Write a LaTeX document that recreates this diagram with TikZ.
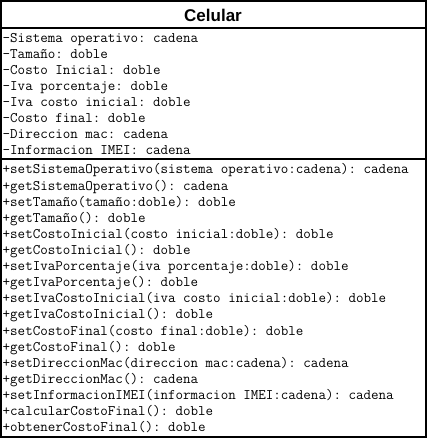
\documentclass[tikz,border=0pt]{standalone}
\usepackage{fontspec}
\setmainfont{Liberation Sans}
\frenchspacing
\begin{document}
\begin{tikzpicture}[x=1pt,y=-1pt,
  frame/.style={draw=black,line width=2pt,inner sep=0pt,minimum width=424.5pt,minimum height=435.5pt},
  divider/.style={draw=black,line width=2pt},
  titletext/.style={font=\bfseries\fontsize{17}{20}\selectfont,inner sep=0pt,anchor=base},
  member/.style={font=\ttfamily\fontsize{14.6}{16}\selectfont\frenchspacing,inner sep=0pt,anchor=base west}]
\useasboundingbox (0,0) rectangle (427,438);
\node[frame] (cls) at (213.25,218.75) {};
\coordinate (d1l) at (1,28.5);
\coordinate (d1r) at (425.5,28.5);
\coordinate (d2l) at (1,159.5);
\coordinate (d2r) at (425.5,159.5);
\draw[divider] (d1l) -- (d1r);
\draw[divider] (d2l) -- (d2r);
\node[titletext] (title) at (213,21.5) {Celular};
\foreach \t [count=\i] in {
  {-Sistema operativo: cadena},
  {-Tamaño: doble},
  {-Costo Inicial: doble},
  {-Iva porcentaje: doble},
  {-Iva costo inicial: doble},
  {-Costo final: doble},
  {-Direccion mac: cadena},
  {-Informacion IMEI: cadena}}
  \node[member] (attr\i) at (2.5,{43+16*(\i-1)}) {\t};
\foreach \t [count=\i] in {
  {+setSistemaOperativo(sistema operativo:cadena): cadena},
  {+getSistemaOperativo(): cadena},
  {+setTamaño(tamaño:doble): doble},
  {+getTamaño(): doble},
  {+setCostoInicial(costo inicial:doble): doble},
  {+getCostoInicial(): doble},
  {+setIvaPorcentaje(iva porcentaje:doble): doble},
  {+getIvaPorcentaje(): doble},
  {+setIvaCostoInicial(iva costo inicial:doble): doble},
  {+getIvaCostoInicial(): doble},
  {+setCostoFinal(costo final:doble): doble},
  {+getCostoFinal(): doble},
  {+setDireccionMac(direccion mac:cadena): cadena},
  {+getDireccionMac(): cadena},
  {+setInformacionIMEI(informacion IMEI:cadena): cadena},
  {+calcularCostoFinal(): doble},
  {+obtenerCostoFinal(): doble}}
  \node[member] (meth\i) at (2.5,{174+16.1*(\i-1)}) {\t};
\end{tikzpicture}
\end{document}
